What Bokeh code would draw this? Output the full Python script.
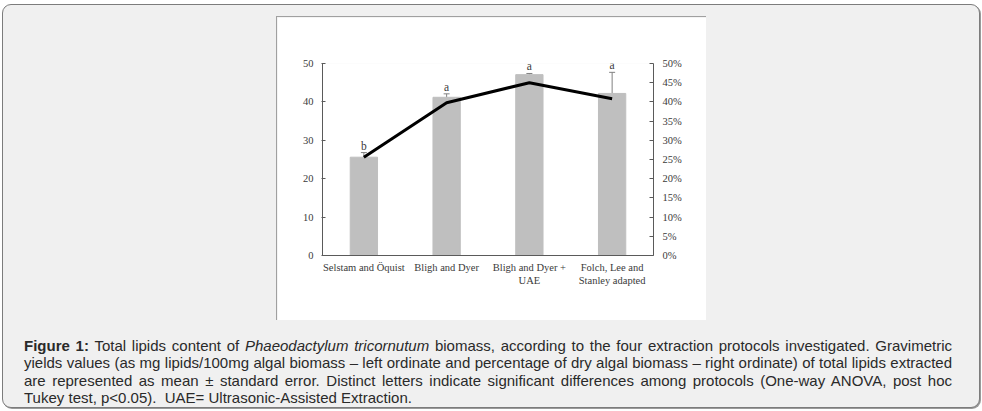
from bokeh.plotting import figure
from bokeh.models import (ColumnDataSource, FactorRange, Range1d, LinearAxis, Whisker,
                          TeeHead, FixedTicker, PrintfTickFormatter, Div, Column)
from bokeh.embed import file_html
from bokeh.resources import INLINE
from bokeh.core.properties import value

# ---- data ----
protocols = ["Selstam and Öquist", "Bligh and Dyer", "Bligh and Dyer +\nUAE",
             "Folch, Lee and\nStanley adapted"]
yield_mg = [25.6, 41.2, 47.1, 42.2]          # mg lipids / 100 mg biomass (left axis)
yield_se = [1.2, 0.9, 0.3, 5.5]              # standard error
yield_pct = [25.6, 39.8, 45.0, 40.8]         # % of dry biomass (right axis)
letters = ["b", "a", "a", "a"]
left_ticks = [0, 10, 20, 30, 40, 50]
right_ticks = [0, 5, 10, 15, 20, 25, 30, 35, 40, 45, 50]

caption_lines = [
    "<b>Figure 1:</b> Total lipids content of <i>Phaeodactylum tricornutum</i> biomass, according to the four extraction protocols investigated. Gravimetric",
    "yields values (as mg lipids/100mg algal biomass – left ordinate and percentage of dry algal biomass – right ordinate) of total lipids extracted",
    "are represented as mean ± standard error. Distinct letters indicate significant differences among protocols (One-way ANOVA, post hoc",
    "Tukey test, p&lt;0.05).&nbsp; UAE= Ultrasonic-Assisted Extraction.",
]

upper = [m + s for m, s in zip(yield_mg, yield_se)]
lower = [m - s for m, s in zip(yield_mg, yield_se)]
src = ColumnDataSource(dict(protocol=protocols, mg=yield_mg, upper=upper, lower=lower,
                            pct=yield_pct, letter=letters))

FONT = "Liberation Serif"
FS = "10.5px"
TXT = "#3a3a3a"
AX = "#5a5a5a"

p = figure(width=429, height=303, x_range=FactorRange(factors=protocols, range_padding=0),
           y_range=Range1d(0, 50), output_backend="svg", toolbar_location=None,
           min_border_left=45, min_border_right=53, min_border_top=46, min_border_bottom=65)
p.outline_line_color = None
p.xgrid.visible = False
p.ygrid.visible = False
p.background_fill_color = "white"
p.border_fill_color = "white"

p.vbar(x="protocol", top="mg", width=0.33, color="#bfbfbf", source=src)
p.extra_y_ranges = {"pct": Range1d(0, 50)}
p.line(x="protocol", y="pct", y_range_name="pct", source=src, line_width=3,
       line_color="black", line_join="round")
wh = Whisker(base="protocol", upper="upper", lower="lower", source=src,
             line_color="#808080", line_width=1,
             upper_head=TeeHead(size=6, line_color="#808080", line_width=1),
             lower_head=TeeHead(size=6, line_color="#808080", line_width=1))
p.add_layout(wh)
p.text(x="protocol", y="upper", text="letter", source=src, text_align="center",
       text_baseline="bottom", y_offset=-1, text_font=value(FONT),
       text_font_size="11.5px", text_color=TXT)

# left axis
ya = p.yaxis[0]
ya.ticker = FixedTicker(ticks=left_ticks)
ya.minor_tick_line_color = None
ya.major_tick_in = 3
ya.major_tick_out = 1
ya.axis_line_color = AX
ya.major_tick_line_color = AX
ya.major_label_standoff = 8
ya.major_label_text_font = FONT
ya.major_label_text_font_size = FS
ya.major_label_text_color = TXT

# right axis
ra = LinearAxis(y_range_name="pct", ticker=FixedTicker(ticks=right_ticks),
                formatter=PrintfTickFormatter(format="%d%%"))
ra.minor_tick_line_color = None
ra.major_tick_in = 4
ra.major_tick_out = 0
ra.axis_line_color = AX
ra.major_tick_line_color = AX
ra.major_label_standoff = 9
ra.major_label_text_font = FONT
ra.major_label_text_font_size = FS
ra.major_label_text_color = TXT
p.add_layout(ra, "right")

# x axis
xa = p.xaxis[0]
xa.major_tick_in = 0
xa.major_tick_out = 0
xa.axis_line_color = AX
xa.major_label_standoff = 6
xa.major_label_text_font = FONT
xa.major_label_text_font_size = FS
xa.major_label_text_color = TXT
xa.major_label_orientation = "horizontal"

chart_wrap = Column(children=[p], margin=(11, 0, 0, 273),
                    styles={"border-left": "1px solid #a0a0a0",
                            "border-top": "1px solid #a0a0a0"})

just = ("text-align:justify;text-align-last:justify;white-space:nowrap;"
        "line-height:17.4px;width:928px;")
last = "text-align:left;white-space:nowrap;line-height:17.4px;width:928px;"
html = "".join(
    f'<div style="{just if i < len(caption_lines) - 1 else last}">{t}</div>'
    for i, t in enumerate(caption_lines))
caption = Div(text=html, width=928, height=72, margin=(17, 0, 0, 21),
              styles={"font-family": "'Liberation Sans', Arial, sans-serif",
                      "font-size": "15px", "color": "#2a2a2a"})

outer = Column(children=[chart_wrap, caption], width=978, height=404,
               margin=(4, 0, 0, 2),
               styles={"background-color": "#f0f0f0", "border": "1px solid #7c7c7c",
                       "border-radius": "9px", "box-sizing": "border-box",
                       "box-shadow": "1px 1px 0 #9a9a9a"})

open("out.html", "w").write(file_html(outer, INLINE))
